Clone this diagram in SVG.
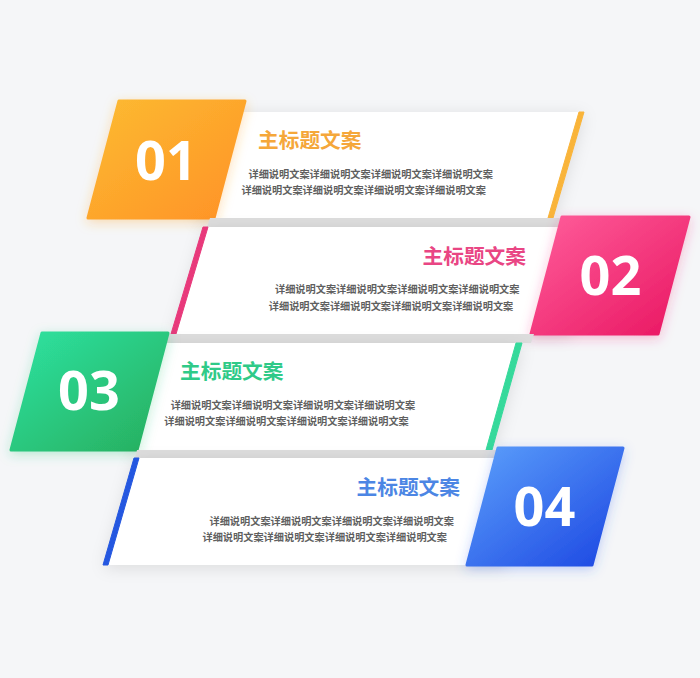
<svg xmlns="http://www.w3.org/2000/svg" width="700" height="678" viewBox="0 0 700 678">
<defs>
<style>
.card{fill:#ffffff;filter:url(#cs)}
.band{fill:#dddddd}
.t{font-family:"Noto Sans CJK SC","Noto Sans",sans-serif;font-weight:700;font-size:20.7px}
.d{font-family:"Noto Sans CJK SC","Noto Sans",sans-serif;font-weight:700;font-size:10.2px;fill:#5f5f5f}
.n{font-family:"Open Sans","Noto Sans",sans-serif;font-weight:700;font-size:54px;fill:#ffffff;text-anchor:middle}
.e{text-anchor:end}
</style>
<filter id="cs" x="-20%" y="-30%" width="140%" height="160%">
<feDropShadow dx="0" dy="3" stdDeviation="8" flood-color="#000000" flood-opacity="0.11"/>
</filter>
<filter id="g1" x="-30%" y="-30%" width="160%" height="160%"><feDropShadow dx="0" dy="3" stdDeviation="6" flood-color="#ffa52e" flood-opacity="0.35"/></filter>
<filter id="g2" x="-30%" y="-30%" width="160%" height="160%"><feDropShadow dx="0" dy="3" stdDeviation="6" flood-color="#f2307a" flood-opacity="0.30"/></filter>
<filter id="g3" x="-30%" y="-30%" width="160%" height="160%"><feDropShadow dx="0" dy="3" stdDeviation="6" flood-color="#2cc97c" flood-opacity="0.30"/></filter>
<filter id="g4" x="-30%" y="-30%" width="160%" height="160%"><feDropShadow dx="0" dy="3" stdDeviation="6" flood-color="#3a6cf0" flood-opacity="0.30"/></filter>
<linearGradient id="o" x1="0" y1="0" x2="1" y2="1"><stop offset="0" stop-color="#fcbb31"/><stop offset="1" stop-color="#ff9227"/></linearGradient>
<linearGradient id="p" x1="0" y1="0" x2="1" y2="1"><stop offset="0" stop-color="#ff5e9b"/><stop offset="1" stop-color="#e91561"/></linearGradient>
<linearGradient id="gr" x1="0" y1="0" x2="1" y2="1"><stop offset="0" stop-color="#2ee3a2"/><stop offset="1" stop-color="#27ad5c"/></linearGradient>
<linearGradient id="b" x1="0" y1="0" x2="1" y2="1"><stop offset="0" stop-color="#5ca0fb"/><stop offset="1" stop-color="#1b45e2"/></linearGradient>
</defs>
<rect width="700" height="678" fill="#f5f6f8"/>
<g id="connectors"/>
<g id="node-01">
<polygon class="card" points="225,112 584,112 553,218 195,218"/>
<polygon points="579,112 584,112 553,218 548,218" fill="#f9b43a" stroke="#f9b43a" stroke-width="1" stroke-linejoin="round"/>
<polygon points="119,101 245,101 214,218 88,218" fill="url(#o)" stroke="url(#o)" stroke-width="3" stroke-linejoin="round" filter="url(#g1)"/>
<text class="n" x="166" y="180">01</text>
<text class="t" x="258" y="148" fill="#f5a73a">主标题文案</text>
<text class="d" x="248.5" y="177.5">详细说明文案详细说明文案详细说明文案详细说明文案</text>
<text class="d" x="241.5" y="194">详细说明文案详细说明文案详细说明文案详细说明文案</text>
</g>
<g id="node-02">
<polygon class="band" points="210,218 566,218 566,227 207,227"/>
<polygon class="card" points="205,227 570,227 570,334 173,334"/>
<polygon points="203,227 208,227 176,334 171,334" fill="#e8397b" stroke="#e8397b" stroke-width="1" stroke-linejoin="round"/>
<polygon points="562,217 689,217 658,334 531,334" fill="url(#p)" stroke="url(#p)" stroke-width="3" stroke-linejoin="round" filter="url(#g2)"/>
<text class="n" x="610.5" y="294.5">02</text>
<text class="t e" x="526" y="263.5" fill="#e94684">主标题文案</text>
<text class="d e" x="519.5" y="293">详细说明文案详细说明文案详细说明文案详细说明文案</text>
<text class="d e" x="513.3" y="309.5">详细说明文案详细说明文案详细说明文案详细说明文案</text>
</g>
<g id="node-03">
<polygon class="band" points="160,334 534,334 531,343 160,343"/>
<polygon class="card" points="150,343 522,343 492,450 130,450"/>
<polygon points="516,343 522,343 492,450 486,450" fill="#36d99b" stroke="#36d99b" stroke-width="1" stroke-linejoin="round"/>
<polygon points="42,333 168,333 137,450 11,450" fill="url(#gr)" stroke="url(#gr)" stroke-width="3" stroke-linejoin="round" filter="url(#g3)"/>
<text class="n" x="89" y="410">03</text>
<text class="t" x="180" y="379" fill="#2fca88">主标题文案</text>
<text class="d" x="170.7" y="408.5">详细说明文案详细说明文案详细说明文案详细说明文案</text>
<text class="d" x="164.3" y="425">详细说明文案详细说明文案详细说明文案详细说明文案</text>
</g>
<g id="node-04">
<polygon class="band" points="137,450 505,450 505,458 135,458"/>
<polygon class="card" points="135,458 505,458 505,565 104,565"/>
<polygon points="134,458 139,458 108,565 103,565" fill="#2457e0" stroke="#2457e0" stroke-width="1" stroke-linejoin="round"/>
<polygon points="498,448 623,448 592,565 467,565" fill="url(#b)" stroke="url(#b)" stroke-width="3" stroke-linejoin="round" filter="url(#g4)"/>
<text class="n" x="544.5" y="526">04</text>
<text class="t e" x="460" y="494.5" fill="#4c86e4">主标题文案</text>
<text class="d e" x="454" y="524.5">详细说明文案详细说明文案详细说明文案详细说明文案</text>
<text class="d e" x="447" y="541">详细说明文案详细说明文案详细说明文案详细说明文案</text>
</g>
</svg>
